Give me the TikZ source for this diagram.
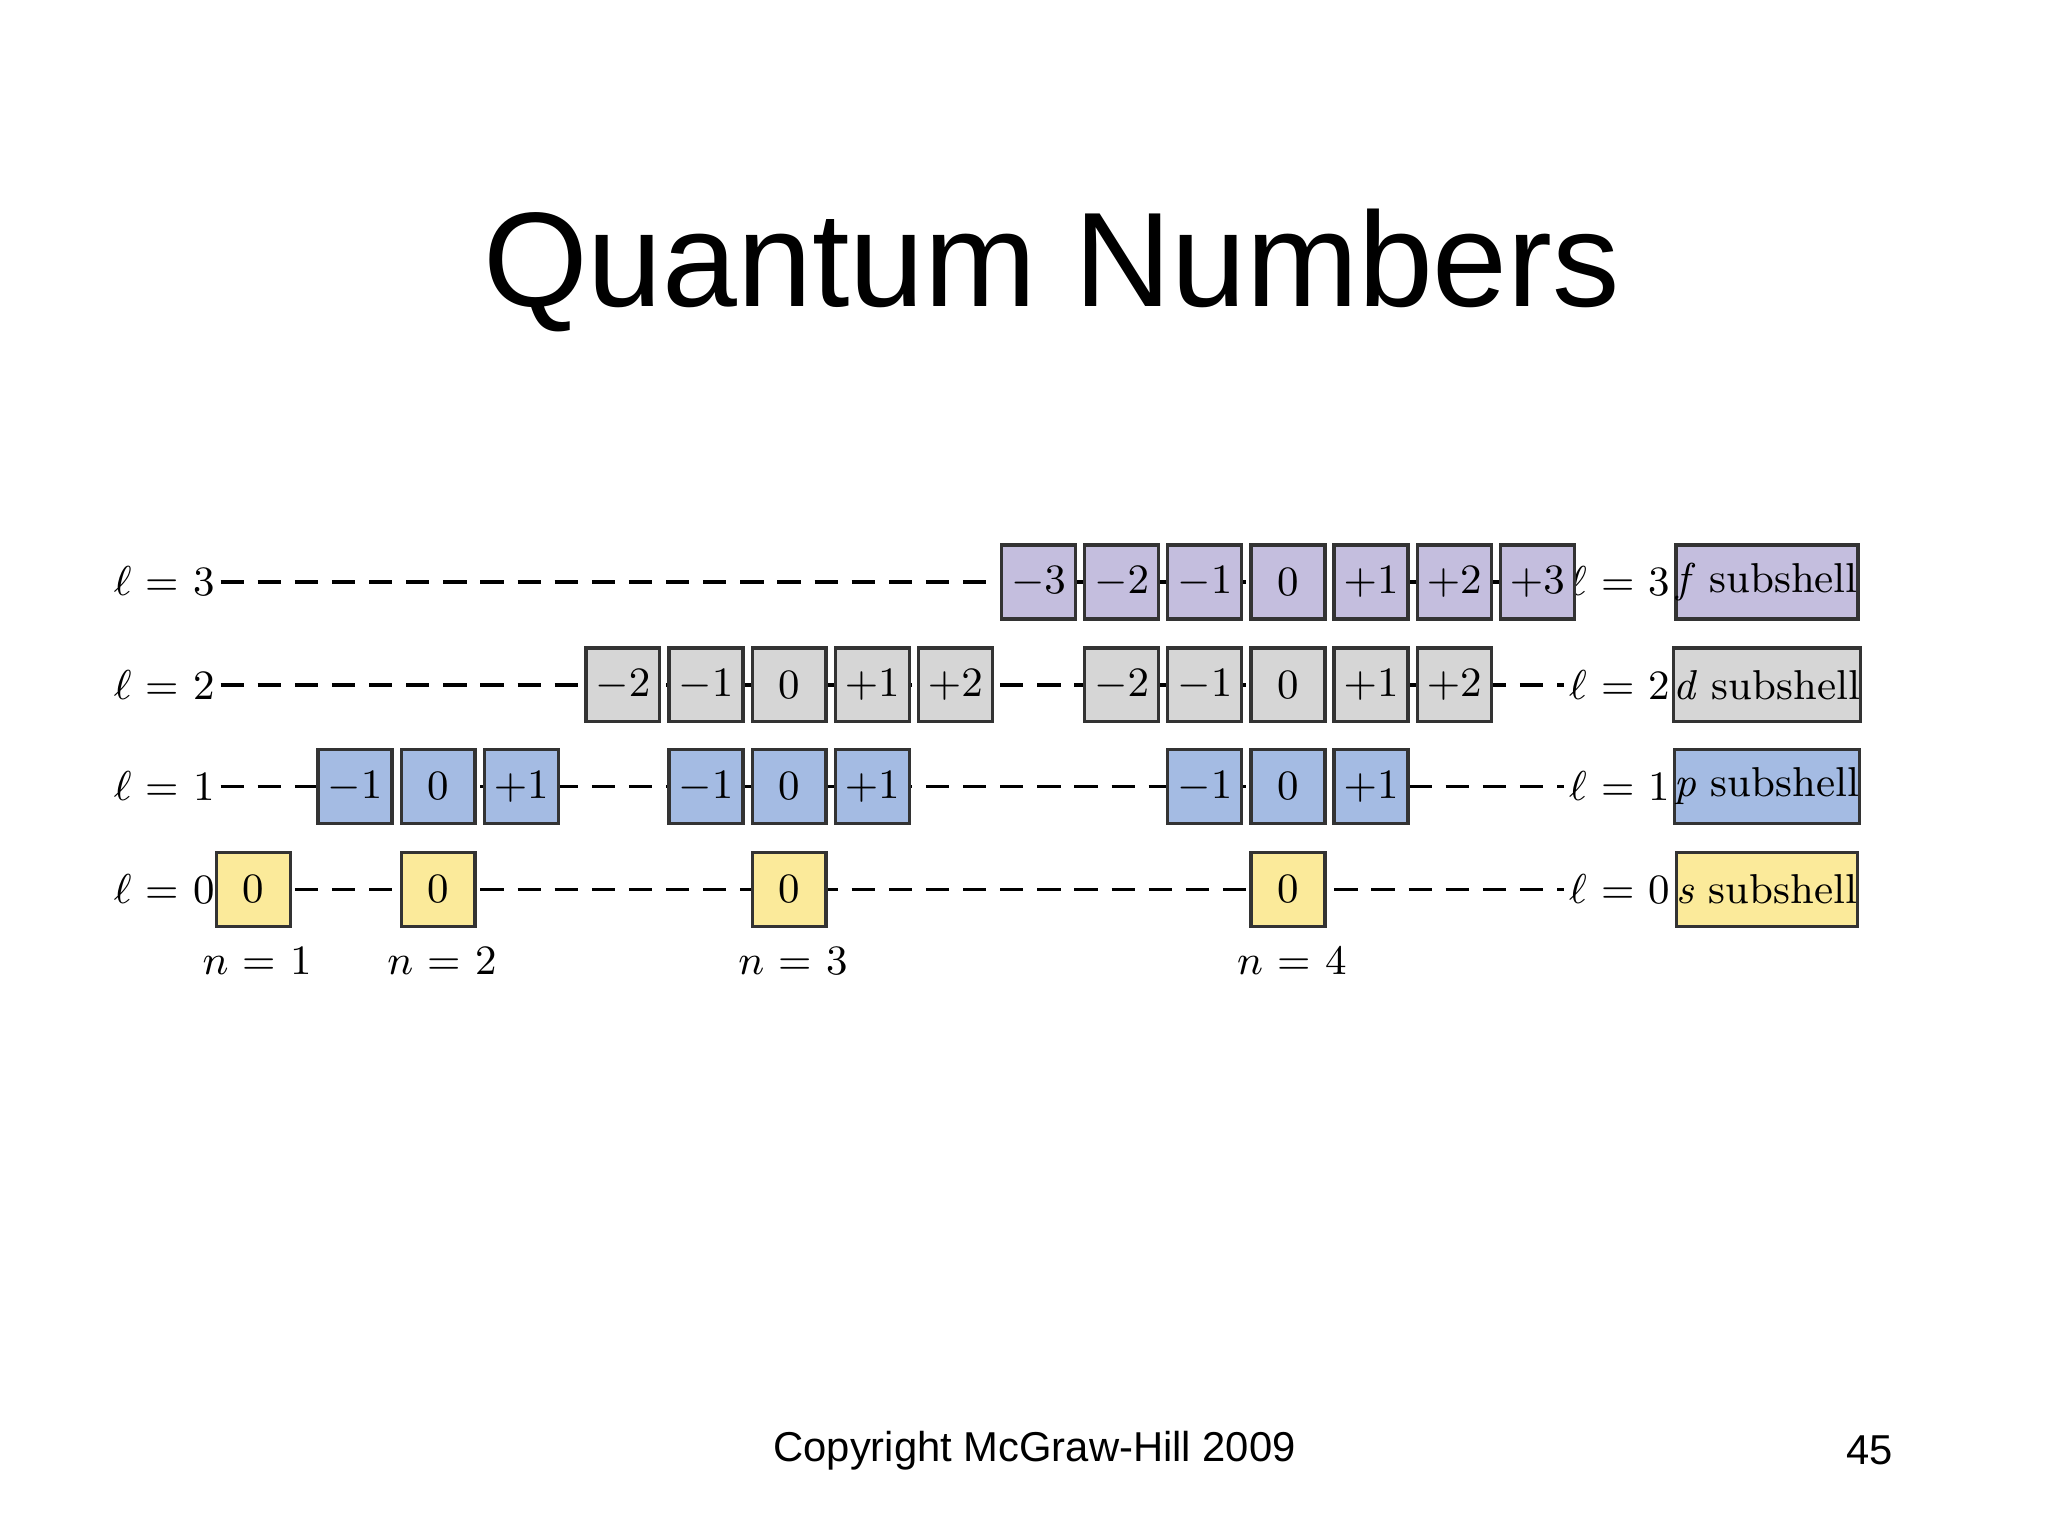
\documentclass[tikz,border=0pt]{standalone}
\usepackage{fontspec}
\newfontfamily\arialf{Liberation Sans}
\begin{document}
\begin{tikzpicture}[x=0.01cm,y=-0.01cm,
  qb/.style={draw=black!80,line width=0.7pt,minimum width=0.56cm,minimum height=0.56cm,inner sep=0pt,font=\fontsize{9}{10}\selectfont},
  fb/.style={qb,fill=fcol}, db/.style={qb,fill=dcol}, pb/.style={qb,fill=pcol}, sb/.style={qb,fill=scol},
  sub/.style={draw=black!80,line width=0.7pt,minimum width=1.35cm,minimum height=0.56cm,inner sep=0pt,font=\fontsize{9}{10}\selectfont},
  lab/.style={inner sep=1pt,font=\fontsize{9}{10}\selectfont},
  dl/.style={dash pattern=on 5pt off 3pt,line width=0.8pt}]
\definecolor{fcol}{RGB}{196,190,222}
\definecolor{dcol}{RGB}{214,214,214}
\definecolor{pcol}{RGB}{164,187,227}
\definecolor{scol}{RGB}{251,234,154}
\useasboundingbox (0,0) rectangle (1552,1164);
\node[font=\arialf\fontsize{29}{32}\selectfont] (title) at (797,205) {Quantum Numbers};
\node[font=\arialf\fontsize{9}{10}\selectfont] (copy) at (784,1099) {Copyright McGraw-Hill 2009};
\node[font=\arialf\fontsize{9}{10}\selectfont] (pg) at (1417,1099) {45};
% left labels
\foreach \l/\y in {3/441,2/519,1/596,0/674}{
  \node[lab,anchor=west] (L\l) at (82,\y) {$\ell$ = \l};
  \node[lab,anchor=east] (R\l) at (1270,\y) {$\ell$ = \l};
  \draw[dl] (L\l.east) -- (R\l.west);
}
\node[sub,fill=fcol] (sf) at (1339,441) {\textit{f} subshell};
\node[sub,fill=dcol] (sd) at (1339,519) {\textit{d} subshell};
\node[sub,fill=pcol] (sp) at (1339,596) {\textit{p} subshell};
\node[sub,fill=scol] (ss) at (1339,674) {\textit{s} subshell};
% f
\foreach \x/\t [count=\i] in {787/$-3$,850/$-2$,913/$-1$,976/0,1039/$+1$,1102/$+2$,1165/$+3$}
  \node[fb] (f\i) at (\x,441) {\t};
\foreach \x/\t [count=\i] in {472/$-2$,535/$-1$,598/0,661/$+1$,724/$+2$,850/$-2$,913/$-1$,976/0,1039/$+1$,1102/$+2$}
  \node[db] (d\i) at (\x,519) {\t};
\foreach \x/\t [count=\i] in {269/$-1$,332/0,395/$+1$,535/$-1$,598/0,661/$+1$,913/$-1$,976/0,1039/$+1$}
  \node[pb] (p\i) at (\x,596) {\t};
\foreach \x [count=\i] in {192,332,598,976}
  \node[sb] (s\i) at (\x,674) {0};
\node[lab] (n1) at (195,728) {$n$ = 1};
\node[lab] (n2) at (335,728) {$n$ = 2};
\node[lab] (n3) at (601,728) {$n$ = 3};
\node[lab] (n4) at (979,728) {$n$ = 4};
\end{tikzpicture}
\end{document}
